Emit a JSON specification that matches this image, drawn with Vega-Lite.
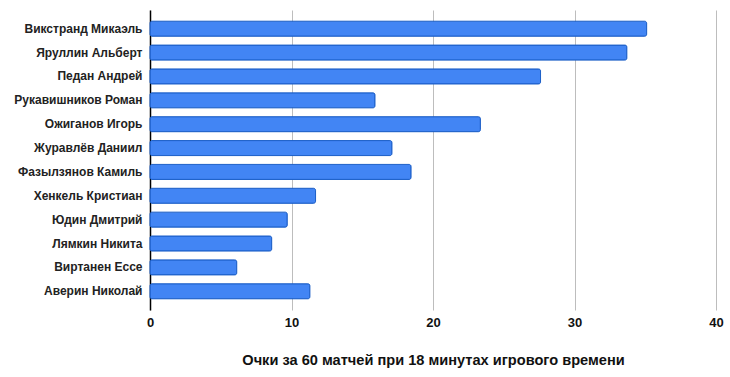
{
  "$schema": "https://vega.github.io/schema/vega-lite/v6.json",
  "autosize": {"type": "none"},
  "width": 566,
  "height": 300,
  "padding": {"left": 150, "top": 10, "right": 14, "bottom": 67},
  "background": "white",
  "config": {
    "view": {"stroke": null},
    "font": "Liberation Sans"
  },
  "data": {
    "values": [
      {"name": "Викстранд Микаэль", "points": 35.1},
      {"name": "Яруллин Альберт", "points": 33.7},
      {"name": "Педан Андрей", "points": 27.6},
      {"name": "Рукавишников Роман", "points": 15.9},
      {"name": "Ожиганов Игорь", "points": 23.35},
      {"name": "Журавлёв Даниил", "points": 17.1},
      {"name": "Фазылзянов Камиль", "points": 18.45},
      {"name": "Хенкель Кристиан", "points": 11.7},
      {"name": "Юдин Дмитрий", "points": 9.7},
      {"name": "Лямкин Никита", "points": 8.6},
      {"name": "Виртанен Ессе", "points": 6.13},
      {"name": "Аверин Николай", "points": 11.3}
    ]
  },
  "mark": {
    "type": "bar",
    "color": "#4285f4",
    "stroke": "#1c5fc8",
    "strokeWidth": 1,
    "cornerRadius": 2
  },
  "encoding": {
    "y": {
      "field": "name",
      "type": "nominal",
      "sort": null,
      "scale": {"paddingInner": 0.37, "paddingOuter": 0.47},
      "axis": {
        "title": null,
        "domain": true,
        "domainColor": "#000000",
        "domainWidth": 1.5,
        "ticks": false,
        "labelPadding": 8,
        "labelFontSize": 12,
        "labelFontWeight": "bold",
        "labelColor": "#222222",
        "labelFont": "Liberation Sans"
      }
    },
    "x": {
      "field": "points",
      "type": "quantitative",
      "scale": {"domain": [0, 40], "nice": false},
      "axis": {
        "title": "Очки за 60 матчей при 18 минутах игрового времени",
        "titleFontSize": 14.6,
        "titleFontWeight": "bold",
        "titleColor": "#111111",
        "titlePadding": 23,
        "titleFont": "Liberation Sans",
        "values": [0, 10, 20, 30, 40],
        "labelFlush": false,
        "domain": false,
        "ticks": false,
        "grid": true,
        "gridColor": "#bdbdbd",
        "labelPadding": 6,
        "labelFontSize": 13,
        "labelFontWeight": "bold",
        "labelColor": "#111111",
        "labelFont": "Liberation Sans"
      }
    }
  }
}
